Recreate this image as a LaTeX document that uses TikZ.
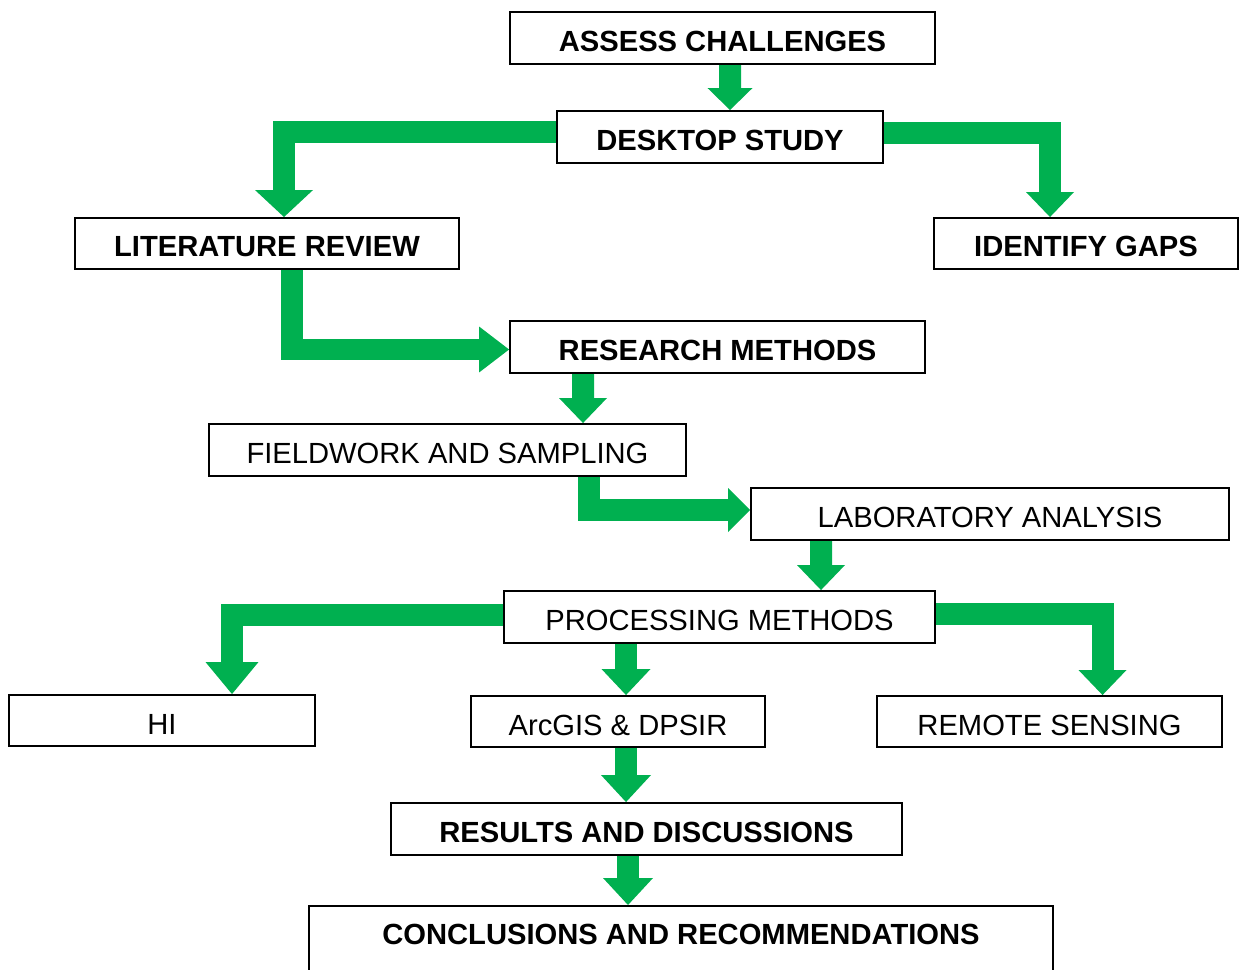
\documentclass[tikz,border=0pt]{standalone}
\usepackage{fontspec}
\setmainfont{Liberation Sans}
\usetikzlibrary{arrows.meta,calc,backgrounds}
\definecolor{flowgreen}{HTML}{00B050}

\begin{document}
\begin{tikzpicture}[x=0.02cm, y=-0.02cm,
  every node/.style={font=\fontsize{16.6}{19}\selectfont},
  box/.style={draw, line width=1.1pt, fill=white, minimum height=1.04cm, inner sep=0pt,
    text height=0.54cm, text depth=0cm},
  bbox/.style={box, font=\fontsize{16.6}{19}\selectfont\bfseries},
  flow/.style={draw=flowgreen, line width=0.44cm, line join=miter, line cap=butt,
    -{Triangle[length=0.5cm,width=0.96cm,line width=0pt]}}]
  \useasboundingbox (0,0) rectangle (1239,969);
  % boxes, top to bottom
  \node[bbox, minimum width=8.5cm] (assess) at (722.5,38) {ASSESS CHALLENGES};
  \node[bbox, minimum width=6.52cm] (desktop) at (720,137) {DESKTOP STUDY};
  \node[bbox, minimum width=7.68cm, minimum height=1.02cm] (lit) at (267,243.5) {LITERATURE REVIEW};
  \node[bbox, minimum width=6.08cm, minimum height=1.02cm] (gaps) at (1086,243.5) {IDENTIFY GAPS};
  \node[bbox, minimum width=8.3cm] (research) at (717.5,347) {RESEARCH METHODS};
  \node[box, minimum width=9.54cm] (field) at (447.5,450) {FIELDWORK AND SAMPLING};
  \node[box, minimum width=9.56cm] (lab) at (990,514) {LABORATORY ANALYSIS};
  \node[box, minimum width=8.62cm] (proc) at (719.5,617) {PROCESSING METHODS};
  \node[box, minimum width=6.12cm, minimum height=1.02cm] (hi) at (162,720.5) {HI};
  \node[box, minimum width=5.88cm, minimum height=1.02cm] (arcgis) at (618,721.5) {ArcGIS \& DPSIR};
  \node[box, minimum width=6.9cm, minimum height=1.02cm] (remote) at (1049.5,721.5) {REMOTE SENSING};
  \node[bbox, minimum width=10.22cm] (results) at (646.5,829) {RESULTS AND DISCUSSIONS};
  \node[bbox, minimum width=14.88cm, anchor=north, text height=0.78cm, text depth=1.6cm] (concl) at (681,905) {CONCLUSIONS AND RECOMMENDATIONS};
  % green block arrows behind the boxes
  \begin{scope}[on background layer]
    \draw[flow, -{Triangle[length=0.44cm,width=0.9cm,line width=0pt]}] ($(assess.south)+(7.5,0)$) -- ($(desktop.north)+(10,0)$);
    \draw[flow, -{Triangle[length=0.54cm,width=1.16cm,line width=0pt]}] ($(desktop.west)+(0,-4.5)$) -| ($(lit.north)+(17,0)$);
    \draw[flow] ($(desktop.east)+(0,-3.5)$) -| ($(gaps.north)+(-36,0)$);
    \draw[flow, -{Triangle[length=0.6cm,width=0.92cm,line width=0pt]}] ($(lit.south)+(25,0)$) |- ($(research.west)+(0,2.5)$);
    \draw[flow] ($(research.south)+(-134.5,0)$) -- ($(field.north)+(135.5,0)$);
    \draw[flow, -{Triangle[length=0.44cm,width=0.88cm,line width=0pt]}] ($(field.south)+(141.5,0)$) |- ($(lab.west)+(0,-4)$);
    \draw[flow] ($(lab.south)+(-169,0)$) -- ($(proc.north)+(101.5,0)$);
    \draw[flow, -{Triangle[length=0.64cm,width=1.06cm,line width=0pt]}] ($(proc.west)+(0,-2.5)$) -| ($(hi.north)+(70,0)$);
    \draw[flow, -{Triangle[length=0.52cm,width=0.98cm,line width=0pt]}] ($(proc.south)+(-93.5,0)$) -- ($(arcgis.north)+(8,0)$);
    \draw[flow] ($(proc.east)+(0,-3)$) -| ($(remote.north)+(53,0)$);
    \draw[flow, -{Triangle[length=0.54cm,width=1cm,line width=0pt]}] ($(arcgis.south)+(8,0)$) -- ($(results.north)+(-20.5,0)$);
    \draw[flow, -{Triangle[length=0.54cm,width=1cm,line width=0pt]}] ($(results.south)+(-18.5,0)$) -- ($(concl.north)+(-53,0)$);
  \end{scope}
\end{tikzpicture}
\end{document}
